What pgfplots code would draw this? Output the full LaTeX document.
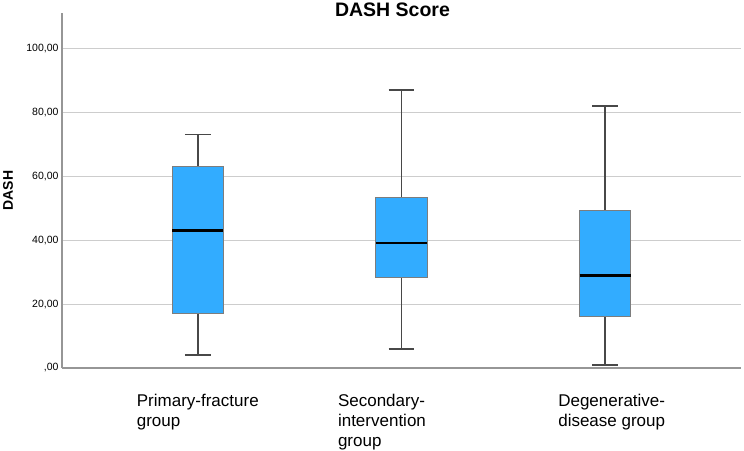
\documentclass[border=0pt]{standalone}
\usepackage{pgfplots}
\pgfplotsset{compat=1.18}
\usepackage{fontspec}
\setmainfont{Liberation Sans}

\definecolor{boxblue}{RGB}{50,172,255}
\definecolor{boxedge}{RGB}{125,125,125}
\definecolor{gridgray}{RGB}{205,205,205}
\definecolor{axisgray}{RGB}{150,150,150}
\definecolor{whiskgray}{RGB}{72,72,72}

\pgfplotsset{
  whisk/.style={whiskgray, line width=1.8pt},
  box/.style={draw=boxedge, fill=boxblue, line width=1pt},
  med/.style={black, line width=2.6pt},
}

\begin{document}
\begin{tikzpicture}
\path[use as bounding box] (-62pt,-82pt) rectangle (682pt,368pt);
\begin{axis}[
  at={(0,0)}, anchor=south west,
  scale only axis, width=679pt, height=355pt,
  xmin=0.3333, xmax=3.6667, ymin=0, ymax=111,
  axis x line*=bottom, axis y line*=left,
  axis line style={axisgray, line width=2pt, -},
  tick style={draw=none},
  xtick={1,2,3},
  xticklabels={{Primary-fracture\\group},
               {Secondary-\rule{40pt}{0pt}\\intervention\\group},
               {\rule{13pt}{0pt}Degenerative-\\\rule{13pt}{0pt}disease group}},
  xticklabel style={align=left, font=\fontsize{17}{20}\selectfont, yshift=-23pt},
  ytick={0,20,40,60,80,100},
  yticklabels={{,00},{20,00},{40,00},{60,00},{80,00},{100,00}},
  yticklabel style={font=\fontsize{10.5}{12}\selectfont},
  ymajorgrids, grid style={gridgray, line width=1pt},
  ylabel={DASH},
  ylabel style={font=\bfseries\fontsize{14}{16}\selectfont,
                at={(axis description cs:-0.0795,0.5)}, anchor=center},
  title={DASH Score},
  title style={font=\bfseries\fontsize{19.5}{22}\selectfont,
               at={(axis description cs:0.5,1)}, anchor=center,
               yshift=-2.5pt, xshift=-9pt},
]
% Primary-fracture group: whiskers 4 / 73, quartiles 17.1 / 62.9, median 43
\addplot[whisk] coordinates {(1,4) (1,17.1)};
\addplot[whisk] coordinates {(1,62.9) (1,73)};
\addplot[whisk] coordinates {(0.937,4) (1.063,4)};
\addplot[whisk] coordinates {(0.937,73) (1.063,73)};
\addplot[box] coordinates {(0.874,17.1) (1.126,17.1) (1.126,62.9) (0.874,62.9)} -- cycle;
\addplot[med] coordinates {(0.874,43) (1.126,43)};

% Secondary-intervention group: whiskers 6 / 86.9, quartiles 28.4 / 53.4, median 39.1
\addplot[whisk] coordinates {(2,6) (2,28.4)};
\addplot[whisk] coordinates {(2,53.4) (2,86.9)};
\addplot[whisk] coordinates {(1.937,6) (2.063,6)};
\addplot[whisk] coordinates {(1.937,86.9) (2.063,86.9)};
\addplot[box] coordinates {(1.874,28.4) (2.126,28.4) (2.126,53.4) (1.874,53.4)} -- cycle;
\addplot[med] coordinates {(1.874,39.1) (2.126,39.1)};

% Degenerative-disease group: whiskers 1 / 82, quartiles 16 / 49.4, median 29
\addplot[whisk] coordinates {(3,1) (3,16)};
\addplot[whisk] coordinates {(3,49.4) (3,82)};
\addplot[whisk] coordinates {(2.937,1) (3.063,1)};
\addplot[whisk] coordinates {(2.937,82) (3.063,82)};
\addplot[box] coordinates {(2.874,16) (3.126,16) (3.126,49.4) (2.874,49.4)} -- cycle;
\addplot[med] coordinates {(2.874,29) (3.126,29)};
\end{axis}
\end{tikzpicture}
\end{document}
